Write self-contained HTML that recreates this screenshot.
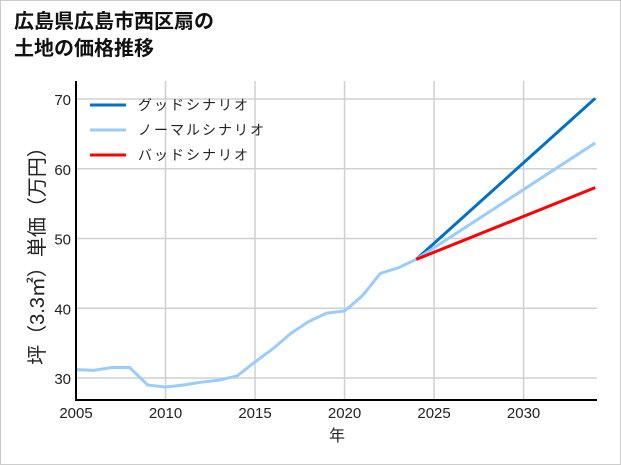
<!DOCTYPE html>
<html><head><meta charset="utf-8"><style>
body{margin:0;background:#fff;}
#wrap{position:relative;width:619px;height:463px;border:1px solid #ccc;background:#fff;overflow:hidden;}
#title{position:absolute;left:13px;top:8px;font:bold 20px/27px "Liberation Sans","Noto Sans CJK JP",sans-serif;color:#111;}
svg{position:absolute;left:0;top:0;}
text{font-family:"Liberation Sans","Noto Sans CJK JP",sans-serif;fill:#222;}
</style></head><body>
<div id="wrap">
<div id="title">広島県広島市西区扇の<br>土地の価格推移</div>
<svg id="chart" width="621" height="465"></svg>
</div>
<script>
const years=[2005,2006,2007,2008,2009,2010,2011,2012,2013,2014,2015,2016,2017,2018,2019,2020,2021,2022,2023,2024];
const prices=[31.2,31.1,31.5,31.5,29.0,28.7,29.0,29.4,29.7,30.3,32.3,34.2,36.4,38.1,39.3,39.6,41.8,45.0,45.8,47.0];
const projYears=[2024,2034];
const goodVals=[47.0,70.1];
const normalVals=[47.0,63.7];
const badVals=[47.0,57.3];
const yTicks=[30,40,50,60,70];
const xTicks=[2005,2010,2015,2020,2025,2030];
const legendLabels=["グッドシナリオ","ノーマルシナリオ","バッドシナリオ"];
const colors=["#0070c8","#99ccff","#ff0000"];

const NS="http://www.w3.org/2000/svg";
const svg=document.getElementById('chart');
const L=75,R=596,T=80,B=399;
const x=v=>L+(v-2005)/(2034.1-2005)*(R-L);
const y=v=>377-(v-30)*6.975;
function mk(tag,attrs){const e=document.createElementNS(NS,tag);for(const k in attrs)e.setAttribute(k,attrs[k]);svg.appendChild(e);return e;}
yTicks.forEach(t=>{
 const g=mk('line',{x1:L,x2:R,y1:y(t),y2:y(t),stroke:'#d0d0d0','stroke-width':1.5});
 
 
 const tx=mk('text',{x:L-5,y:y(t)+6,'text-anchor':'end','font-size':15});
 tx.textContent=t;
 
 
});
xTicks.forEach(t=>{
 const g=mk('line',{x1:x(t),x2:x(t),y1:T,y2:B,stroke:'#d0d0d0','stroke-width':1.5});
 
 
 const tx=mk('text',{x:x(t),y:B+18,'text-anchor':'middle','font-size':15});
 tx.textContent=t;
 
 
});
function line(xs,vs,c,name){
 const p=mk('polyline',{points:xs.map((v,i)=>x(v)+','+y(vs[i])).join(' '),fill:'none',stroke:c,'stroke-width':3,'stroke-linejoin':'round'});
 
 
}
line(projYears,goodVals,colors[0],'good-scenario-line');
line(projYears,normalVals,colors[1],'normal-scenario-line');
line(projYears,badVals,colors[2],'bad-scenario-line');
line(years,prices,colors[1],'historical-price-line');
let a=mk('line',{x1:L,x2:L,y1:T,y2:B+1,stroke:'#000','stroke-width':2});

a=mk('line',{x1:L-1,x2:R,y1:B,y2:B,stroke:'#000','stroke-width':2});

legendLabels.forEach((s,i)=>{
 const ly=104+i*25;
 const l=mk('line',{x1:89,x2:125,y1:ly,y2:ly,stroke:colors[i],'stroke-width':3});
 
 
 const t=mk('text',{x:137,y:ly+5,'font-size':14,'letter-spacing':2});
 t.textContent=s;
 
 
});
let xt=mk('text',{x:336,y:440,'text-anchor':'middle','font-size':16});
xt.textContent='年';

let yt=mk('text',{x:0,y:0,'text-anchor':'middle','font-size':20,transform:'translate(43,250) rotate(-90)'});
yt.textContent='坪（3.3㎡）単価（万円）';

</script>
</body></html>
